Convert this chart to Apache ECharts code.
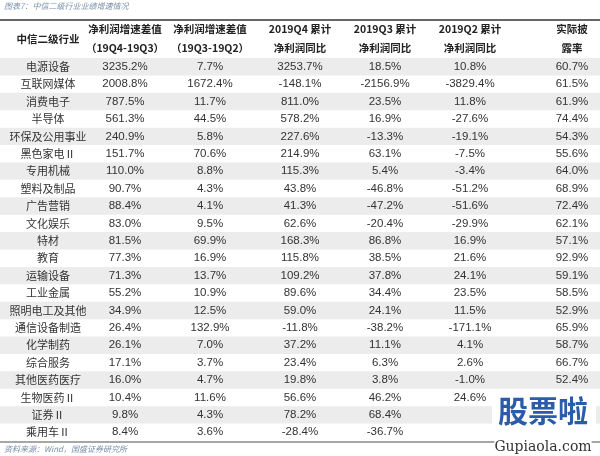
<!DOCTYPE html>
<html><head><meta charset="utf-8">
<script src="https://cdn.jsdelivr.net/npm/echarts@6/dist/echarts.min.js"></script>
<style>html,body{margin:0;padding:0;background:#fff}#main{width:600px;height:456px}</style>
</head><body><div id="main"></div>
<script>
var headers = ['中信二级行业', '净利润增速差值\n（19Q4-19Q3）', '净利润增速差值\n（19Q3-19Q2）', '2019Q4 累计\n净利润同比', '2019Q3 累计\n净利润同比', '2019Q2 累计\n净利润同比', '实际披\n露率'];
var industries = ['电源设备', '互联网媒体', '消费电子', '半导体', '环保及公用事业', '黑色家电Ⅱ', '专用机械', '塑料及制品', '广告营销', '文化娱乐', '特材', '教育', '运输设备', '工业金属', '照明电工及其他', '通信设备制造', '化学制药', '综合服务', '其他医药医疗', '生物医药Ⅱ', '证券Ⅱ', '乘用车Ⅱ'];
var diff43 = ['3235.2%', '2008.8%', '787.5%', '561.3%', '240.9%', '151.7%', '110.0%', '90.7%', '88.4%', '83.0%', '81.5%', '77.3%', '71.3%', '55.2%', '34.9%', '26.4%', '26.1%', '17.1%', '16.0%', '10.4%', '9.8%', '8.4%'];
var diff32 = ['7.7%', '1672.4%', '11.7%', '44.5%', '5.8%', '70.6%', '8.8%', '4.3%', '4.1%', '9.5%', '69.9%', '16.9%', '13.7%', '10.9%', '12.5%', '132.9%', '7.0%', '3.7%', '4.7%', '11.6%', '4.3%', '3.6%'];
var q4 = ['3253.7%', '-148.1%', '811.0%', '578.2%', '227.6%', '214.9%', '115.3%', '43.8%', '41.3%', '62.6%', '168.3%', '115.8%', '109.2%', '89.6%', '59.0%', '-11.8%', '37.2%', '23.4%', '19.8%', '56.6%', '78.2%', '-28.4%'];
var q3 = ['18.5%', '-2156.9%', '23.5%', '16.9%', '-13.3%', '63.1%', '5.4%', '-46.8%', '-47.2%', '-20.4%', '86.8%', '38.5%', '37.8%', '34.4%', '24.1%', '-38.2%', '11.1%', '6.3%', '3.8%', '46.2%', '68.4%', '-36.7%'];
var q2 = ['10.8%', '-3829.4%', '11.8%', '-27.6%', '-19.1%', '-7.5%', '-3.4%', '-51.2%', '-51.6%', '-29.9%', '16.9%', '21.6%', '24.1%', '23.5%', '11.5%', '-171.1%', '4.1%', '2.6%', '-1.0%', '24.6%', '', ''];
var disclosure = ['60.7%', '61.5%', '61.9%', '74.4%', '54.3%', '55.6%', '64.0%', '68.9%', '72.4%', '62.1%', '57.1%', '92.9%', '59.1%', '58.5%', '52.9%', '65.9%', '58.7%', '66.7%', '52.4%', '65.9%', '', ''];

var colX = [48, 125, 210, 300, 385, 470, 572];
var columns = [industries, diff43, diff32, q4, q3, q2, disclosure];

var cells = [];
columns.forEach(function(col, c) {
    col.forEach(function(v, r) {
        cells.push([colX[c], industries[r], v, c, r]);
    });
});

var chart = echarts.init(document.getElementById('main'));
var headerGraphics = headers.map(function(h, i) {
    return {
        type: 'text', x: colX[i], y: 39,
        style: {
            text: h, x: 0, y: 0, align: 'center', verticalAlign: 'middle',
            font: 'bold 10.5px "Noto Sans CJK SC"', fill: '#222', lineHeight: 19
        }
    };
});
chart.setOption({
    animation: false,
    grid: { left: 0, right: 0, top: 58, bottom: 15 },
    xAxis: { type: 'value', min: 0, max: 600, show: false },
    yAxis: { type: 'category', data: industries, inverse: true, show: false },
    graphic: headerGraphics.concat([
        { type: 'text', x: 4, y: 6, style: { text: '图表7：中信二级行业业绩增速情况', font: 'italic 8px "Noto Sans CJK SC"', fill: '#7a8fa8', verticalAlign: 'middle' } },
        { type: 'line', shape: { x1: 0, y1: 20, x2: 600, y2: 20 }, style: { stroke: '#333', lineWidth: 1.5 } },
        { type: 'line', shape: { x1: 0, y1: 442, x2: 600, y2: 442 }, style: { stroke: '#888', lineWidth: 1.5 } },
        { type: 'text', x: 4, y: 449, style: { text: '资料来源：Wind，国盛证券研究所', font: 'italic 8px "Noto Sans CJK SC"', fill: '#7a8fa8', verticalAlign: 'middle' } },
        { type: 'rect', shape: { x: 492, y: 392, width: 104, height: 38 }, style: { fill: '#fff' }, z: 50 },
        { type: 'text', x: 543, y: 411, z: 51, style: { text: '股票啦', font: 'bold 30px "Noto Sans CJK SC"', fill: '#2a5ca8', align: 'center', verticalAlign: 'middle' } },
        { type: 'text', x: 543, y: 447, z: 51, style: { text: 'Gupiaola.com', font: '14px "DejaVu Serif"', fill: '#333', align: 'center', verticalAlign: 'middle', backgroundColor: '#fff' } }
    ]),
    series: [{
        type: 'custom',
        data: cells,
        renderItem: function(params, api) {
            var p = api.coord([api.value(0), api.value(1)]);
            var h = api.size([0, 1])[1];
            var c = api.value(3), r = api.value(4);
            var children = [];
            if (c === 0 && r % 2 === 0) {
                children.push({ type: 'rect', shape: { x: 0, y: p[1] - h / 2, width: 600, height: h }, style: { fill: '#ececec' }, z2: 0 });
            }
            children.push({
                type: 'text', z2: 10,
                style: {
                    text: api.value(2), x: p[0], y: p[1], align: 'center', verticalAlign: 'middle',
                    font: (c === 0 ? '11px "Noto Sans CJK SC"' : '11.5px "Liberation Sans"'), fill: '#333'
                }
            });
            return { type: 'group', children: children };
        }
    }]
});
</script></body></html>
